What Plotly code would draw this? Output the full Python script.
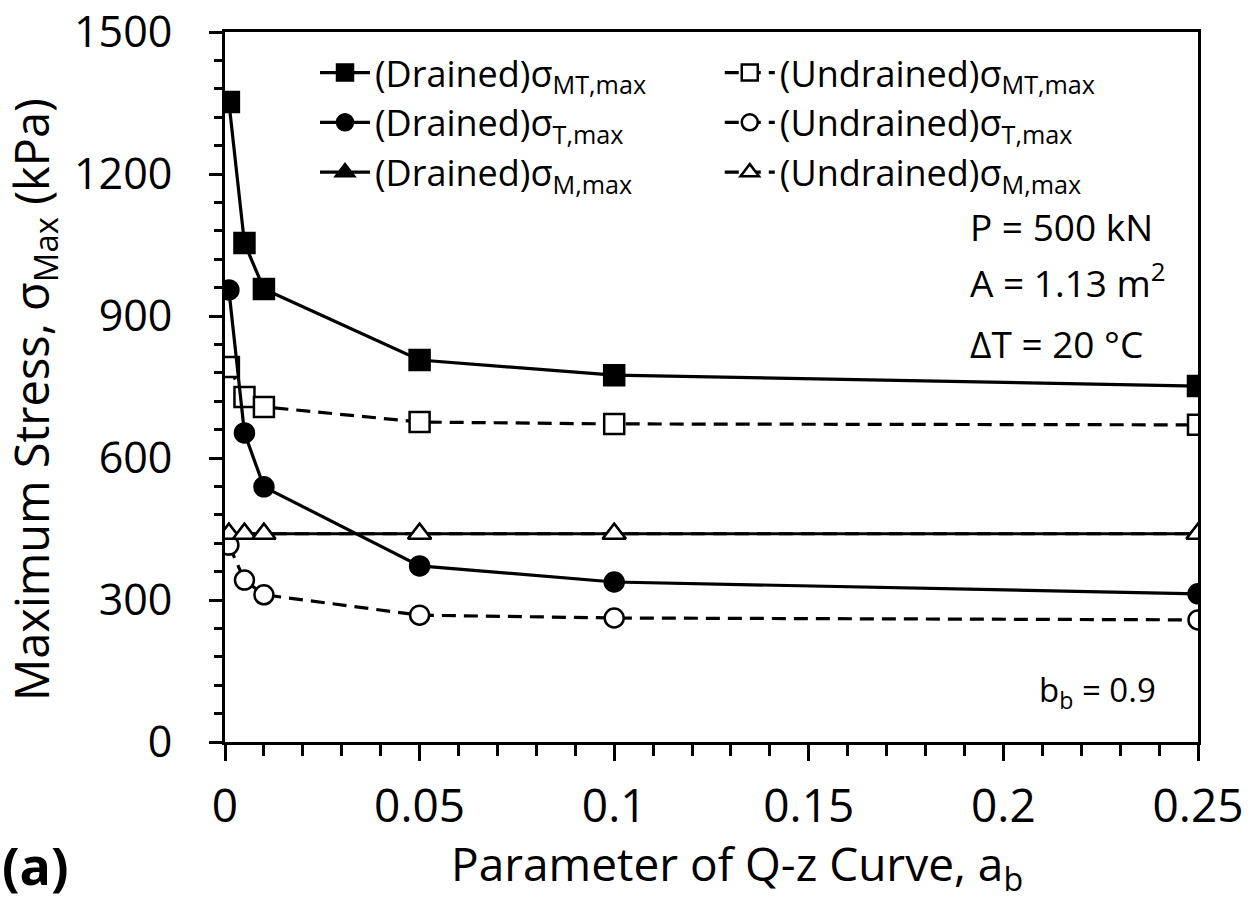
import plotly.graph_objects as go

# Q-z curve parameter a_b
a_b = [0.001, 0.005, 0.01, 0.05, 0.1, 0.25]

# Maximum stresses (kPa), drained case
drained_mt = [1352, 1054, 957, 807, 775, 752]
drained_t = [955, 653, 539, 372, 338, 313]
drained_m = [440, 440, 440, 440, 440, 440]

# Maximum stresses (kPa), undrained case
undrained_mt = [792, 729, 708, 676, 672, 670]
undrained_t = [416, 342, 311, 268, 262, 258]
undrained_m = [440, 440, 440, 440, 440, 440]

FONT = "Open Sans"
BLACK = "#000000"
DASH = "14px,8px"

fig = go.Figure()

def add_series(y, name, symbol, filled, dash, legend):
    fig.add_trace(go.Scatter(
        x=a_b, y=y, mode="lines+markers", name=name, legend=legend,
        line=dict(color=BLACK, width=3.2, dash=dash),
        marker=dict(symbol=symbol, size=20 if symbol != "circle" else 19,
                    color=BLACK if filled else "white",
                    line=dict(color=BLACK, width=2.5)),
    ))

# undrained first so drained lines sit above them; undrained M last so the open
# triangles stay visible over the coincident drained M series
add_series(undrained_mt, "(Undrained)σ<sub>MT,max</sub>", "square", False, DASH, "legend2")
add_series(undrained_t, "(Undrained)σ<sub>T,max</sub>", "circle", False, DASH, "legend2")
add_series(drained_mt, "(Drained)σ<sub>MT,max</sub>", "square", True, "solid", "legend")
add_series(drained_t, "(Drained)σ<sub>T,max</sub>", "circle", True, "solid", "legend")
add_series(drained_m, "(Drained)σ<sub>M,max</sub>", "triangle-up", True, "solid", "legend")
add_series(undrained_m, "(Undrained)σ<sub>M,max</sub>", "triangle-up", False, DASH, "legend2")

legend_common = dict(
    yanchor="top", xanchor="left", bgcolor="rgba(0,0,0,0)",
    font=dict(family=FONT, size=36, color=BLACK),
    tracegroupgap=0, itemsizing="trace", itemwidth=50,
)

annotations = [
    dict(text="Maximum Stress, σ<sub>Max</sub> (kPa)", x=-0.197, y=0.482,
         textangle=-90, font=dict(size=47)),
    dict(text="Parameter of Q-z Curve, a<sub>b</sub>", x=0.526, y=-0.124,
         yanchor="top", font=dict(size=46)),
    dict(text="<b>(a)</b>", x=-0.2312, y=-0.12, xanchor="left", yanchor="top",
         font=dict(size=52)),
    dict(text="P = 500 kN", x=0.7636, y=0.688, xanchor="left", yanchor="bottom",
         font=dict(size=37)),
    dict(text="A = 1.13 m<sup>2</sup>", x=0.7636, y=0.608, xanchor="left", yanchor="bottom",
         font=dict(size=37)),
    dict(text="ΔT = 20 °C", x=0.7636, y=0.523, xanchor="left", yanchor="bottom",
         font=dict(size=37)),
    dict(text="b<sub>b</sub> = 0.9", x=0.8345, y=0.108, xanchor="left", yanchor="top",
         font=dict(size=33)),
]
for a in annotations:
    a.setdefault("xanchor", "center")
    a["xref"] = "paper"
    a["yref"] = "paper"
    a["showarrow"] = False
    a["font"] = dict(family=FONT, color=BLACK, **a["font"])

fig.update_layout(
    width=1254, height=902,
    margin=dict(l=225, r=56, t=32, b=160, autoexpand=False),
    paper_bgcolor="white", plot_bgcolor="white",
    font=dict(family=FONT, color=BLACK),
    showlegend=True,
    legend=dict(x=0.0925, y=0.985, **legend_common),
    legend2=dict(x=0.5085, y=0.985, **legend_common),
    annotations=annotations,
    xaxis=dict(
        range=[0, 0.25], tick0=0, dtick=0.05,
        showgrid=False, zeroline=False,
        showline=True, linecolor=BLACK, linewidth=3, mirror=True,
        ticks="outside", ticklen=16, tickwidth=2.5, tickcolor=BLACK,
        ticklabelstandoff=6,
        tickfont=dict(family=FONT, size=46, color=BLACK),
        minor=dict(dtick=0.01, ticks="outside", ticklen=11, tickwidth=2.5,
                   tickcolor=BLACK, showgrid=False),
    ),
    yaxis=dict(
        range=[0, 1500], tick0=0, dtick=300,
        showgrid=False, zeroline=False,
        showline=True, linecolor=BLACK, linewidth=3, mirror=True,
        ticks="outside", ticklen=13, tickwidth=2.5, tickcolor=BLACK,
        ticklabelstandoff=28,
        tickfont=dict(family=FONT, size=43, color=BLACK),
        minor=dict(dtick=60, ticks="outside", ticklen=8, tickwidth=2.5,
                   tickcolor=BLACK, showgrid=False),
    ),
)

fig.write_html("out.html")
